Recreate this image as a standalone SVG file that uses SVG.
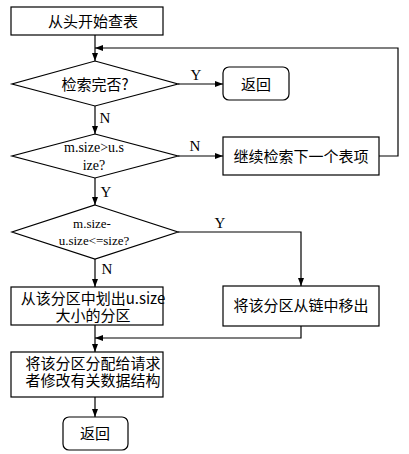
<svg xmlns="http://www.w3.org/2000/svg" width="409" height="454" viewBox="0 0 409 454">
<defs>
<marker id="arr" markerWidth="8" markerHeight="6" refX="8" refY="3" orient="auto" markerUnits="userSpaceOnUse">
<path d="M0,0 L8,3 L0,6 Z" fill="#000"/>
</marker>
<style>
.box{fill:#fff;stroke:#000;stroke-width:1.2}
.cn{font-family:"Noto Sans CJK SC","Liberation Sans",sans-serif;font-size:15px;fill:#000;text-anchor:middle}
.lat{font-family:"Liberation Serif","Noto Sans CJK SC",serif;fill:#000;text-anchor:middle}
.lbl{font-family:"Liberation Serif",serif;font-size:15px;fill:#000;text-anchor:middle}
.ln{fill:none;stroke:#000;stroke-width:1.2}
</style>
</defs>
<rect width="409" height="454" fill="#fff"/>
<g id="connectors">
<path class="ln" d="M95,35 V61" marker-end="url(#arr)"/>
<path class="ln" d="M379,156 H398 V48 H95" marker-end="url(#arr)"/>
<path class="ln" d="M178,84 H223" marker-end="url(#arr)"/>
<text class="lbl" x="196" y="80">Y</text>
<path class="ln" d="M95,106 V134" marker-end="url(#arr)"/>
<text class="lbl" x="105" y="123">N</text>
<path class="ln" d="M178,156 H223" marker-end="url(#arr)"/>
<text class="lbl" x="195" y="151">N</text>
<path class="ln" d="M95,178 V205" marker-end="url(#arr)"/>
<text class="lbl" x="106" y="197">Y</text>
<path class="ln" d="M178,232 H301 V286" marker-end="url(#arr)"/>
<text class="lbl" x="220" y="228">Y</text>
<path class="ln" d="M95,259 V287" marker-end="url(#arr)"/>
<text class="lbl" x="107" y="274">N</text>
<path class="ln" d="M301,326 V338 H95" marker-end="url(#arr)"/>
<path class="ln" d="M95,325 V352" marker-end="url(#arr)"/>
<path class="ln" d="M95,397 V417" marker-end="url(#arr)"/>
</g>
<g id="start">
<rect class="box" x="11" y="7" width="152" height="28"/>
<text class="cn" x="93" y="26.5">从头开始查表</text>
</g>
<g id="check-done">
<polygon class="box" points="95,61 178,84 95,106 12,84"/>
<text class="cn" x="95" y="90">检索完否?</text>
</g>
<g id="return1">
<rect class="box" x="223" y="67" width="66" height="33" rx="6"/>
<text class="cn" x="256" y="89.5">返回</text>
</g>
<g id="check-size">
<polygon class="box" points="95,134 178,156 95,178 12,156"/>
<text class="lat" font-size="14" x="94" y="152">m.size&gt;u.s</text>
<text class="lat" font-size="14" x="94" y="170">ize?</text>
</g>
<g id="next-item">
<rect class="box" x="223" y="137" width="156" height="38"/>
<text class="cn" x="301" y="161.5">继续检索下一个表项</text>
</g>
<g id="check-diff">
<polygon class="box" points="95,205 178,232 95,259 12,232"/>
<text class="lat" font-size="13" x="92" y="228">m.size-</text>
<text class="lat" font-size="13" x="94" y="245">u.size&lt;=size?</text>
</g>
<g id="split">
<rect class="box" x="11" y="287" width="152" height="38"/>
<text class="cn" x="93" y="304">从该分区中划出u.size</text>
<text class="cn" x="93" y="321">大小的分区</text>
</g>
<g id="remove">
<rect class="box" x="223" y="286" width="156" height="40"/>
<text class="cn" x="301" y="311">将该分区从链中移出</text>
</g>
<g id="allocate">
<rect class="box" x="11" y="352" width="152" height="45"/>
<text class="cn" x="93" y="369">将该分区分配给请求</text>
<text class="cn" x="93" y="386">者修改有关数据结构</text>
</g>
<g id="return2">
<rect class="box" x="63" y="417" width="65" height="33" rx="6"/>
<text class="cn" x="95" y="438.5">返回</text>
</g>
</svg>
